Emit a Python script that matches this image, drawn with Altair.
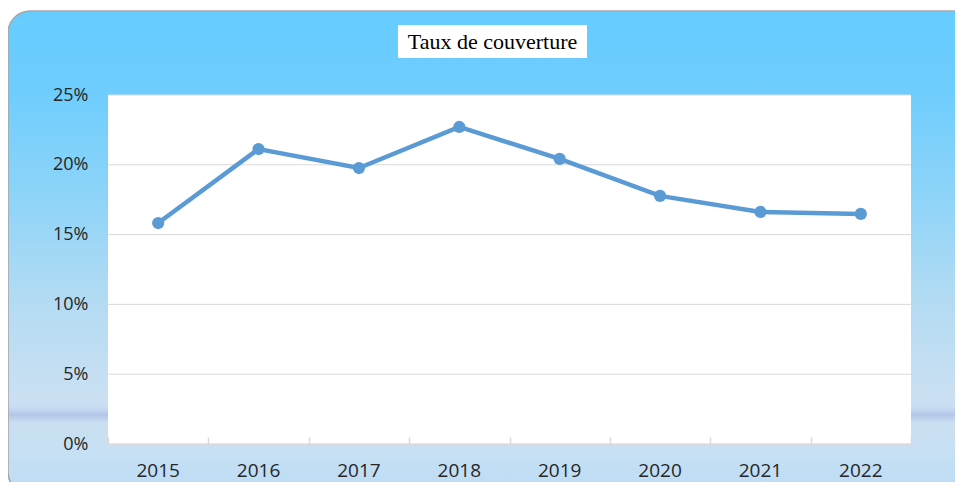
import altair as alt
import pandas as pd

# ---- data ----
years = ["2015", "2016", "2017", "2018", "2019", "2020", "2021", "2022"]
rates = [0.1583, 0.2113, 0.1977, 0.2271, 0.2042, 0.1777, 0.1662, 0.1648]
y_ticks = [0.0, 0.05, 0.10, 0.15, 0.20, 0.25]
title_text = "Taux de couverture"

W, H = 803, 349

df = pd.DataFrame({"year": years, "rate": rates})
grid_df = pd.DataFrame({"rate": y_ticks})
one = pd.DataFrame({"label": [title_text]})

gradient = {
    "gradient": "linear", "x1": 0, "y1": 0, "x2": 0, "y2": 1,
    "stops": [
        {"offset": 0.0, "color": "#66CCFF"},
        {"offset": 0.164, "color": "#6ECDFD"},
        {"offset": 0.391, "color": "#8FD4F8"},
        {"offset": 0.598, "color": "#B3DBF3"},
        {"offset": 0.805, "color": "#CBE0F2"},
        {"offset": 0.822, "color": "#C6DCF1"},
        {"offset": 0.836, "color": "#B4C6E7"},
        {"offset": 0.853, "color": "#C9DFF2"},
        {"offset": 0.899, "color": "#C8E0F3"},
        {"offset": 1.0, "color": "#BBDCF5"},
    ],
}

yscale = alt.Scale(domain=[0, 0.25])
xscale = alt.Scale(type="band", paddingInner=0, paddingOuter=0)

yaxis = alt.Axis(title=None, values=y_ticks, format=".0%",
                 labelFont="Open Sans", labelFontSize=18,
                 labelColor="#262626", labelPadding=20,
                 ticks=False, domain=False, grid=False, zindex=1)

bg = alt.Chart(one).mark_rect(
    fill=gradient, stroke="#A6A6A6", strokeWidth=1.5, cornerRadius=22
).encode(
    x=alt.value(-100), x2=alt.value(867), y=alt.value(-84), y2=alt.value(399)
)

plot_bg = alt.Chart(one).mark_rect(fill="white").encode(
    x=alt.value(0), x2=alt.value(W), y=alt.value(0), y2=alt.value(H)
)

grid = alt.Chart(grid_df).mark_rule(color="#D9D9D9", strokeWidth=1).encode(
    y=alt.Y("rate:Q", scale=yscale, axis=yaxis),
    x=alt.value(0), x2=alt.value(W),
)

line = alt.Chart(df).mark_line(color="#5B9BD5", strokeWidth=4.5).encode(
    x=alt.X("year:O", scale=xscale, sort=years,
            axis=alt.Axis(orient="bottom", title=None, labelAngle=0,
                          labelFont="Open Sans", labelFontSize=19,
                          labelColor="#262626", labelPadding=17,
                          ticks=False, grid=False,
                          domainColor="#D9D9D9", domainWidth=1.5,
                          zindex=1)),
    y=alt.Y("rate:Q", scale=yscale, axis=yaxis),
)

points = alt.Chart(df).mark_point(
    filled=True, color="#5B9BD5", size=150, opacity=1
).encode(
    x=alt.X("year:O", scale=xscale, sort=years,
            axis=alt.Axis(orient="top", offset=-H, title=None,
                          labels=False, domain=False, grid=False,
                          ticks=True, tickBand="extent", tickSize=7,
                          tickColor="#D9D9D9", tickWidth=1.5, zindex=1)),
    y=alt.Y("rate:Q", scale=yscale, axis=yaxis),
)

title_box = alt.Chart(one).mark_rect(fill="white").encode(
    x=alt.value(290), x2=alt.value(479), y=alt.value(-70), y2=alt.value(-37)
)

title = alt.Chart(one).mark_text(
    font="Liberation Serif", fontSize=22, color="black",
    align="center", baseline="middle"
).encode(
    text="label:N", x=alt.value(384.5), y=alt.value(-53)
)

chart = alt.layer(
    bg, plot_bg, grid, line, points, title_box, title
).resolve_axis(x="independent").properties(
    width=W, height=H,
    autosize=alt.AutoSizeParams(type="none"),
    padding={"left": 100, "top": 87, "right": 44, "bottom": 38},
    background="white",
).configure_view(stroke=None)

chart.save("out.html", embed_options={"renderer": "svg", "actions": False})
